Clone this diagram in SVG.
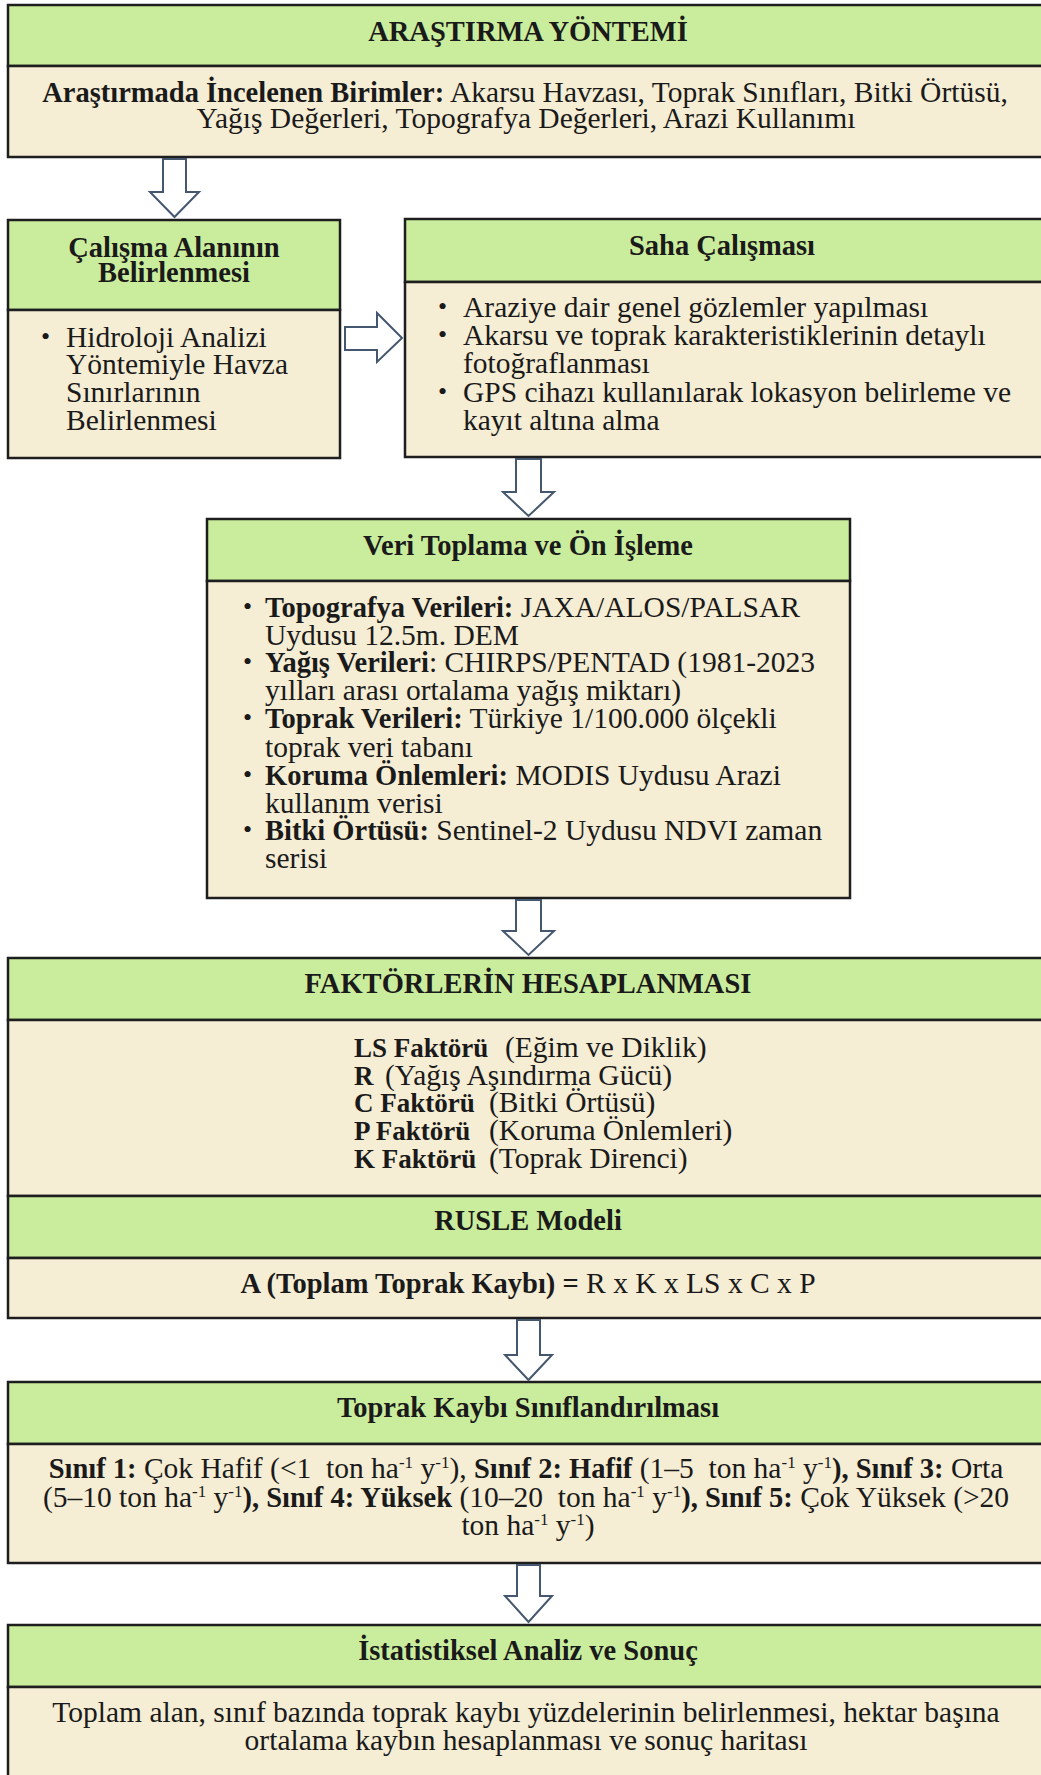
<svg xmlns="http://www.w3.org/2000/svg" width="1041" height="1775" viewBox="0 0 1041 1775">
<style>
.hd{fill:#CAED9D;stroke:#1e1e1e;stroke-width:2.5}
.bd{fill:#F5EDD4;stroke:#1e1e1e;stroke-width:2.5}
text{font-family:"Liberation Serif","Times New Roman",serif;font-size:29.5px;fill:#1a1a1a}
.t{font-weight:bold;text-anchor:middle;font-size:28.5px}
.c{text-anchor:middle}
.b{font-weight:bold;font-size:28.5px}
.fb{font-weight:bold;font-size:27px}
.bu{font-size:26px}
.sup{font-size:17px}
.arr{fill:#ffffff;stroke:#44576E;stroke-width:2}
</style>
<rect width="1041" height="1775" fill="#ffffff"/>

<g id="arastirma">
<rect class="hd" x="8" y="5" width="1045" height="61"/>
<rect class="bd" x="8" y="66" width="1045" height="91"/>
<text class="t" x="528" y="41">ARAŞTIRMA YÖNTEMİ</text>
<text class="c" x="525" y="102"><tspan class="b">Araştırmada İncelenen Birimler:</tspan> Akarsu Havzası, Toprak Sınıfları, Bitki Örtüsü,</text>
<text class="c" x="526" y="128">Yağış Değerleri, Topografya Değerleri, Arazi Kullanımı</text>
</g>

<g id="calisma">
<rect class="hd" x="8" y="220" width="332" height="90"/>
<rect class="bd" x="8" y="310" width="332" height="148"/>
<text class="t" x="174" y="257">Çalışma Alanının</text>
<text class="t" x="174" y="282">Belirlenmesi</text>
<text class="bu" x="41" y="345">•</text>
<text x="66" y="347">Hidroloji Analizi</text>
<text x="66" y="374">Yöntemiyle Havza</text>
<text x="66" y="402">Sınırlarının</text>
<text x="66" y="430">Belirlenmesi</text>
</g>

<g id="saha">
<rect class="hd" x="405" y="219" width="648" height="63"/>
<rect class="bd" x="405" y="282" width="648" height="175"/>
<text class="t" x="722" y="255">Saha Çalışması</text>
<text class="bu" x="438" y="315">•</text>
<text x="463" y="317">Araziye dair genel gözlemler yapılması</text>
<text class="bu" x="438" y="343">•</text>
<text x="463" y="345">Akarsu ve toprak karakteristiklerinin detaylı</text>
<text x="463" y="373">fotoğraflanması</text>
<text class="bu" x="438" y="400">•</text>
<text x="463" y="402">GPS cihazı kullanılarak lokasyon belirleme ve</text>
<text x="463" y="430">kayıt altına alma</text>
</g>

<g id="veri">
<rect class="hd" x="207" y="519" width="643" height="62"/>
<rect class="bd" x="207" y="581" width="643" height="317"/>
<text class="t" x="528" y="555">Veri Toplama ve Ön İşleme</text>
<text class="bu" x="243" y="615">•</text>
<text x="265" y="617"><tspan class="b">Topografya Verileri:</tspan> JAXA/ALOS/PALSAR</text>
<text x="265" y="645">Uydusu 12.5m. DEM</text>
<text class="bu" x="243" y="670">•</text>
<text x="265" y="672"><tspan class="b">Yağış Verileri</tspan>: CHIRPS/PENTAD (1981-2023</text>
<text x="265" y="700">yılları arası ortalama yağış miktarı)</text>
<text class="bu" x="243" y="726">•</text>
<text x="265" y="728"><tspan class="b">Toprak Verileri:</tspan> Türkiye 1/100.000 ölçekli</text>
<text x="265" y="757">toprak veri tabanı</text>
<text class="bu" x="243" y="783">•</text>
<text x="265" y="785"><tspan class="b">Koruma Önlemleri:</tspan> MODIS Uydusu Arazi</text>
<text x="265" y="813">kullanım verisi</text>
<text class="bu" x="243" y="838">•</text>
<text x="265" y="840"><tspan class="b">Bitki Örtüsü:</tspan> Sentinel-2 Uydusu NDVI zaman</text>
<text x="265" y="868">serisi</text>
</g>

<g id="faktorler">
<rect class="hd" x="8" y="958" width="1045" height="62"/>
<rect class="bd" x="8" y="1020" width="1045" height="176"/>
<text class="t" x="528" y="993">FAKTÖRLERİN HESAPLANMASI</text>
<text x="354" y="1057"><tspan class="fb">LS Faktörü</tspan><tspan x="505">(Eğim ve Diklik)</tspan></text>
<text x="354" y="1085"><tspan class="fb">R</tspan><tspan x="385">(Yağış Aşındırma Gücü)</tspan></text>
<text x="354" y="1112"><tspan class="fb">C Faktörü</tspan><tspan x="489">(Bitki Örtüsü)</tspan></text>
<text x="354" y="1140"><tspan class="fb">P Faktörü</tspan><tspan x="489">(Koruma Önlemleri)</tspan></text>
<text x="354" y="1168"><tspan class="fb">K Faktörü</tspan><tspan x="489">(Toprak Direnci)</tspan></text>
</g>

<g id="rusle">
<rect class="hd" x="8" y="1196" width="1045" height="62"/>
<rect class="bd" x="8" y="1258" width="1045" height="60"/>
<text class="t" x="528" y="1230">RUSLE Modeli</text>
<text class="c" x="528" y="1293"><tspan class="b">A (Toplam Toprak Kaybı) =</tspan> R x K x LS x C x P</text>
</g>

<g id="siniflandirma">
<rect class="hd" x="8" y="1382" width="1045" height="62"/>
<rect class="bd" x="8" y="1444" width="1045" height="119"/>
<text class="t" x="528" y="1417">Toprak Kaybı Sınıflandırılması</text>
<text class="c" x="526" y="1478" xml:space="preserve"><tspan class="b">Sınıf 1:</tspan> Çok Hafif (&lt;1  ton ha<tspan class="sup" dy="-10">-1</tspan><tspan dy="10"> y</tspan><tspan class="sup" dy="-10">-1</tspan><tspan dy="10">), </tspan><tspan class="b">Sınıf 2: Hafif</tspan> (1–5  ton ha<tspan class="sup" dy="-10">-1</tspan><tspan dy="10"> y</tspan><tspan class="sup" dy="-10">-1</tspan><tspan dy="10" class="b">), Sınıf 3:</tspan> Orta</text>
<text class="c" x="526" y="1507" xml:space="preserve">(5–10 ton ha<tspan class="sup" dy="-10">-1</tspan><tspan dy="10"> y</tspan><tspan class="sup" dy="-10">-1</tspan><tspan dy="10" class="b">), Sınıf 4: Yüksek</tspan> (10–20  ton ha<tspan class="sup" dy="-10">-1</tspan><tspan dy="10"> y</tspan><tspan class="sup" dy="-10">-1</tspan><tspan dy="10" class="b">), Sınıf 5:</tspan> Çok Yüksek (&gt;20</text>
<text class="c" x="528" y="1535" xml:space="preserve">ton ha<tspan class="sup" dy="-10">-1</tspan><tspan dy="10"> y</tspan><tspan class="sup" dy="-10">-1</tspan><tspan dy="10">)</tspan></text>
</g>

<g id="istatistik">
<rect class="hd" x="8" y="1625" width="1045" height="62"/>
<rect class="bd" x="8" y="1687" width="1045" height="100"/>
<text class="t" x="528" y="1660">İstatistiksel Analiz ve Sonuç</text>
<text class="c" x="526" y="1722">Toplam alan, sınıf bazında toprak kaybı yüzdelerinin belirlenmesi, hektar başına</text>
<text class="c" x="526" y="1750">ortalama kaybın hesaplanması ve sonuç haritası</text>
</g>

<g id="connectors">
<path class="arr" d="M163,159 H186 V192 H199 L174.5,217 L150,192 H163 Z"/>
<path class="arr" d="M345,327 H377 V313 L402,338 L377,362 V350 H345 Z"/>
<path class="arr" d="M516,459 H541 V492 H554 L528.5,516 L503,492 H516 Z"/>
<path class="arr" d="M516,900 H541 V931 H554 L528.5,955 L503,931 H516 Z"/>
<path class="arr" d="M517,1320 H540 V1355 H552 L528.5,1380 L505,1355 H517 Z"/>
<path class="arr" d="M517,1565 H540 V1596 H552 L528.5,1622 L505,1596 H517 Z"/>
</g>
</svg>
